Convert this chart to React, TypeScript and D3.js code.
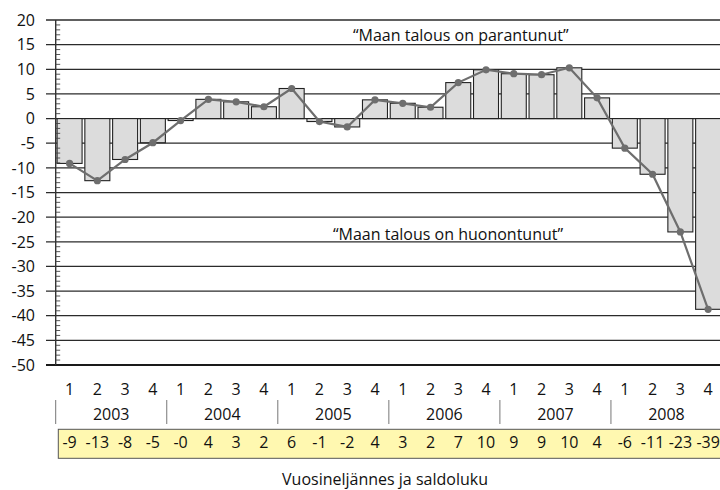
import React from "react";
import * as d3 from "d3";

const years = ["2003", "2004", "2005", "2006", "2007", "2008"];
const quarters = ["1", "2", "3", "4"];
const values = [-9.1, -12.6, -8.3, -4.9, -0.4, 3.9, 3.4, 2.4, 6.1, -0.6, -1.7, 3.8, 3.1, 2.3, 7.3, 9.9, 9.1, 8.9, 10.3, 4.2, -6.0, -11.3, -23.0, -38.7];
const tableLabels = ["-9", "-13", "-8", "-5", "-0", "4", "3", "2", "6", "-1", "-2", "4", "3", "2", "7", "10", "9", "9", "10", "4", "-6", "-11", "-23", "-39"];
const yTicks = [20, 15, 10, 5, 0, -5, -10, -15, -20, -25, -30, -35, -40, -45, -50];
const noteUp = "\u201CMaan talous on parantunut\u201D";
const noteDown = "\u201CMaan talous on huonontunut\u201D";
const xTitle = "Vuosineljännes ja saldoluku";

const FONT = "'Open Sans', 'DejaVu Sans', sans-serif";

export default function App() {
  const cats = years.flatMap((y) => quarters.map((q) => `${y}-${q}`));
  const x = d3.scaleBand<string>().domain(cats).range([55.7, 722]).paddingInner(0.1).paddingOuter(0.05);
  const y = d3.scaleLinear().domain([-50, 20]).range([365, 20]);
  const step = x.step();
  const left = 55.7;
  const slotX = (i: number) => left + i * step;
  const cx = (i: number) => slotX(i) + step / 2;
  const minor = d3.range(-50, 21, 1).filter((v) => v % 5 !== 0);
  const line = d3.line<number>().x((_, i) => cx(i)).y((d) => y(d));

  return (
    <svg width={720} height={490} style={{ position: "absolute", left: 0, top: 0, background: "#fff" }} fontFamily={FONT}>
      {/* gridlines */}
      {yTicks.map((t) => (
        <line key={"g" + t} x1={46} x2={722} y1={y(t)} y2={y(t)} stroke={t === -50 ? "#1a1a1a" : "#2b2b2b"} strokeWidth={t === -50 ? 2 : t === 20 ? 1.6 : 1.25} />
      ))}
      {/* bars */}
      {values.map((v, i) => {
        const c = cats[i];
        const y0 = y(Math.max(0, v));
        const h = Math.abs(y(v) - y(0));
        return <rect key={"b" + i} x={x(c)} y={y0} width={x.bandwidth()} height={h} fill="#dcdcdc" stroke="#222" strokeWidth={1.1} />;
      })}
      {/* y axis */}
      <line x1={left} x2={left} y1={y(20)} y2={y(-50)} stroke="#333" strokeWidth={1.4} />
      {minor.map((m) => (
        <line key={"m" + m} x1={left} x2={left + 4.5} y1={y(m)} y2={y(m)} stroke="#444" strokeWidth={0.9} />
      ))}
      {yTicks.map((t) => (
        <text key={"t" + t} x={35} y={y(t)} dy="0.36em" textAnchor="end" fontSize={16} fill="#111">
          {t}
        </text>
      ))}
      {/* line */}
      <path d={line(values) || ""} fill="none" stroke="#6e6e6e" strokeWidth={2.2} />
      {values.map((v, i) => (
        <circle key={"c" + i} cx={cx(i)} cy={y(v)} r={3.6} fill="#6e6e6e" />
      ))}
      {/* annotations */}
      <text x={353} y={40.5} fontSize={16} fill="#111">{noteUp}</text>
      <text x={333} y={239.5} fontSize={16} fill="#111">{noteDown}</text>
      {/* quarter labels */}
      {cats.map((c, i) => (
        <text key={"q" + i} x={cx(i)} y={395} textAnchor="middle" fontSize={16} fill="#111">
          {quarters[i % 4]}
        </text>
      ))}
      {/* year separators and labels */}
      {years.map((yr, k) => (
        <g key={"y" + yr}>
          <line x1={slotX(k * 4)} x2={slotX(k * 4)} y1={400} y2={424} stroke="#777" strokeWidth={1} />
          <text x={slotX(k * 4) + 2 * step} y={420} textAnchor="middle" fontSize={16} fill="#111">
            {yr}
          </text>
        </g>
      ))}
      {/* table */}
      <rect x={58.3} y={429.3} width={680} height={29} fill="#fff8b0" stroke="#555" strokeWidth={1} />
      {tableLabels.map((l, i) => (
        <text key={"l" + i} x={cx(i)} y={448} textAnchor="middle" fontSize={16} fill="#111">
          {l}
        </text>
      ))}
      <text x={385} y={485} textAnchor="middle" fontSize={16} fill="#111">{xTitle}</text>
    </svg>
  );
}
